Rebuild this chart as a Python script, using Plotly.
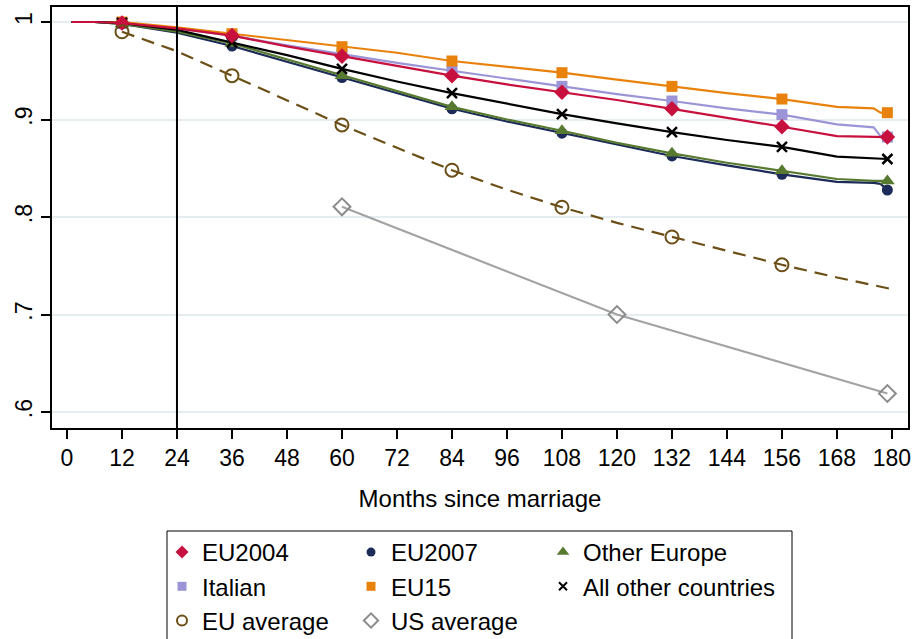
import plotly.graph_objects as go

# ---------------- data ----------------
MONTHS = [1, 6, 12, 24, 36, 48, 60, 72, 84, 96, 108, 120, 132, 144, 156, 168, 176, 177.5, 179]
MARKER_MONTHS = [12, 36, 60, 84, 108, 132, 156, 179]

EU2004 = [1, 1, .999, .9935, .986, .975, .965, .955, .945, .936, .928, .920, .911, .902, .8926, .883, .882, .882, .882]
ITALIAN = [1, 1, .999, .9935, .986, .976, .967, .958, .950, .942, .934, .926, .919, .9115, .905, .895, .892, .883, .882]
EU15 = [1, 1, 1.0, .9945, .988, .9815, .9747, .9685, .960, .954, .948, .941, .934, .927, .921, .913, .9115, .907, .907]
ALL_OTHER = [1, 1, .999, .992, .979, .966, .952, .939, .927, .916, .9056, .896, .887, .879, .872, .862, .860, .8597, .8595]
OTHER_EUROPE = [1, 1, .998, .990, .978, .9617, .945, .929, .913, .900, .8885, .876, .8653, .8557, .8475, .839, .837, .837, .837]
EU2007 = [1, 1, .998, .989, .9754, .9593, .943, .927, .911, .898, .886, .8747, .8626, .853, .8438, .836, .835, .834, .8277]

EU_AVG_MONTHS = [12, 24, 36, 48, 60, 72, 84, 96, 108, 120, 132, 144, 156, 168, 180]
EU_AVG = [.990, .970, .945, .920, .8944, .871, .848, .828, .810, .794, .7795, .765, .751, .738, .726]
EU_AVG_MARKER_MONTHS = [12, 36, 60, 84, 108, 132, 156]

US_AVG_MONTHS = [60, 120, 179]
US_AVG = [.8105, .700, .619]

X_TICKS = list(range(0, 181, 12))
Y_TICKS = [.6, .7, .8, .9, 1]
Y_TICK_TEXT = [".6", ".7", ".8", ".9", "1"]

FONT = "Liberation Sans, Arial, sans-serif"

# series: name, values, color, symbol, plot size, legend size, legend column, rank
series = [
    ("Italian", ITALIAN, "#9b94d6", "square", 11, 9, "legend", 2),
    ("EU15", EU15, "#e8820c", "square", 11, 9, "legend2", 2),
    ("EU2007", EU2007, "#1c2b57", "circle", 11, 9, "legend2", 1),
    ("Other Europe", OTHER_EUROPE, "#587a30", "triangle-up", 13, 11, "legend3", 1),
    ("All other countries", ALL_OTHER, "#000000", "x-thin", 10, 8, "legend3", 2),
    ("EU2004", EU2004, "#c8103f", "diamond", 12, 10, "legend", 1),
]

fig = go.Figure()


def pick(xs, ys, wanted):
    return [y for x, y in zip(xs, ys) if x in wanted], [x for x in xs if x in wanted]


for name, vals, color, sym, size, lsize, leg, rank in series:
    fig.add_trace(go.Scatter(x=MONTHS, y=vals, mode="lines",
                             line=dict(color=color, width=2.2), showlegend=False,
                             hoverinfo="skip"))
    my, mx = pick(MONTHS, vals, MARKER_MONTHS)
    mk = dict(color=color, symbol=sym, size=size)
    if sym == "x-thin":
        mk["line"] = dict(color=color, width=2.5)
    fig.add_trace(go.Scatter(x=mx, y=my, mode="markers", marker=mk,
                             showlegend=False, name=name))

# EU average (dashed, hollow circles)
BROWN = "#6b4f16"
fig.add_trace(go.Scatter(x=EU_AVG_MONTHS, y=EU_AVG, mode="lines",
                         line=dict(color=BROWN, width=2.2, dash="13px,8px"),
                         showlegend=False))
my, mx = pick(EU_AVG_MONTHS, EU_AVG, EU_AVG_MARKER_MONTHS)
fig.add_trace(go.Scatter(x=mx, y=my, mode="markers",
                         marker=dict(symbol="circle-open", size=13, color=BROWN,
                                     line=dict(width=2, color=BROWN)),
                         showlegend=False))

# US average
GRAY_L = "#a3a3a3"
GRAY_M = "#8c8c8c"
fig.add_trace(go.Scatter(x=US_AVG_MONTHS, y=US_AVG, mode="lines",
                         line=dict(color=GRAY_L, width=2.2), showlegend=False))
fig.add_trace(go.Scatter(x=US_AVG_MONTHS, y=US_AVG, mode="markers",
                         marker=dict(symbol="diamond-open", size=13, color=GRAY_M,
                                     line=dict(width=2, color=GRAY_M)),
                         showlegend=False))

# legend-only entries (three columns)
legend_entries = [(n, c, s, ls, leg, r) for n, _, c, s, _, ls, leg, r in series]
legend_entries += [("EU average", BROWN, "circle-open", 10, "legend", 3),
                   ("US average", GRAY_M, "diamond-open", 11, "legend2", 3)]
for name, color, sym, lsize, leg, rank in legend_entries:
    mk = dict(color=color, symbol=sym, size=lsize)
    if sym in ("x-thin", "circle-open", "diamond-open"):
        mk["line"] = dict(color=color, width=2)
    fig.add_trace(go.Scatter(x=[None], y=[None], mode="markers", marker=mk,
                             name=name, legend=leg, legendrank=rank, showlegend=True))

W, H = 917, 639
ML, MR, MT, MB = 52, 9, 7, 211

# vertical reference line at 24 months
fig.add_vline(x=24, line=dict(color="black", width=2), layer="above")

# legend frame
pw = W - ML - MR
ph = H - MT - MB
fig.add_shape(type="rect", xref="paper", yref="paper",
              x0=(167 - ML) / pw, x1=(792 - ML) / pw,
              y0=(H - MB - 531) / ph, y1=(H - MB - 680) / ph,
              line=dict(color="black", width=1), fillcolor="rgba(0,0,0,0)")

leg_common = dict(orientation="v", xref="container", yref="container",
                  xanchor="left", yanchor="top",
                  font=dict(family=FONT, size=24, color="black"),
                  bgcolor="rgba(0,0,0,0)", borderwidth=0, itemclick=False,
                  traceorder="normal")
ly = 1 - 530 / H
fig.update_layout(
    legend=dict(x=162 / W, y=ly, **leg_common),
    legend2=dict(x=351 / W, y=ly, **leg_common),
    legend3=dict(x=543 / W, y=ly, **leg_common),
)

fig.update_layout(
    width=W, height=H,
    margin=dict(l=ML, r=MR, t=MT, b=MB, autoexpand=False),
    paper_bgcolor="white", plot_bgcolor="white",
    font=dict(family=FONT, color="black"),
    showlegend=True,
    xaxis=dict(range=[-3.27, 183.5], tickmode="array", tickvals=X_TICKS,
               ticks="outside", ticklen=9, tickwidth=1.5, tickcolor="black",
               showline=True, linecolor="black", linewidth=1.5, mirror=True,
               showgrid=False, zeroline=False, automargin=False,
               tickfont=dict(size=23, family=FONT),
               title=dict(text="Months since marriage", font=dict(size=24, family=FONT),
                          standoff=20)),
    yaxis=dict(range=[0.5836, 1.0154], tickmode="array", tickvals=Y_TICKS,
               ticktext=Y_TICK_TEXT, tickangle=-90,
               ticks="outside", ticklen=9, tickwidth=1.5, tickcolor="black",
               showline=True, linecolor="black", linewidth=1.5, mirror=True,
               showgrid=True, gridcolor="#e6edf0", gridwidth=1.5, zeroline=False,
               automargin=False,
               tickfont=dict(size=23, family=FONT)),
)

fig.write_html("out.html")
